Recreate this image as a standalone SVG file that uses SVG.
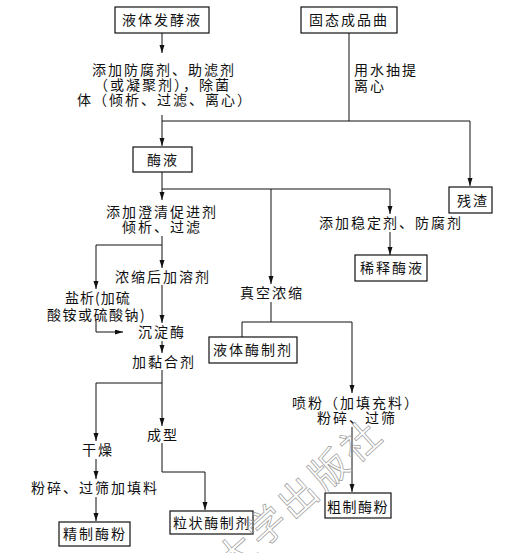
<svg xmlns="http://www.w3.org/2000/svg" width="525" height="553" viewBox="0 0 525 553">
<style>
text{font-family:"Noto Sans CJK SC","Noto Sans",sans-serif;font-size:14px;fill:#111;letter-spacing:2px}
.box{fill:#fff;stroke:#111;stroke-width:1.2}
.c{fill:none;stroke:#111;stroke-width:1}
.wm{font-size:38px;fill:none;stroke:#9a9a9a;stroke-width:0.7;letter-spacing:4px}
</style>
<defs>
<marker id="ah" markerUnits="userSpaceOnUse" markerWidth="9" markerHeight="6" refX="8" refY="2.5" orient="auto">
<path d="M0,0 L8,2.5 L0,5 z" fill="#111"/>
</marker>
</defs>
<rect width="525" height="553" fill="#fff"/>

<g id="connectors">
<path class="c" d="M162,33 V53" marker-end="url(#ah)"/>
<path class="c" d="M162,115 V146" marker-end="url(#ah)"/>
<path class="c" d="M162,121 H470 V186" marker-end="url(#ah)"/>
<path class="c" d="M349,33 V121"/>
<path class="c" d="M162,172 V200" marker-end="url(#ah)"/>
<path class="c" d="M162,189 H390 V214" marker-end="url(#ah)"/>
<path class="c" d="M271,189 V284" marker-end="url(#ah)"/>
<path class="c" d="M390,232 V255" marker-end="url(#ah)"/>
<path class="c" d="M162,236 V268" marker-end="url(#ah)"/>
<path class="c" d="M162,245 H96 V289" marker-end="url(#ah)"/>
<path class="c" d="M162,285 V323" marker-end="url(#ah)"/>
<path class="c" d="M96,320 V332 H123" marker-end="url(#ah)"/>
<path class="c" d="M162,341 V353" marker-end="url(#ah)"/>
<path class="c" d="M271,302 V322"/>
<path class="c" d="M242,337 V322 H352 V393" marker-end="url(#ah)"/>
<path class="c" d="M162,370 V426" marker-end="url(#ah)"/>
<path class="c" d="M162,383 H96 V441" marker-end="url(#ah)"/>
<path class="c" d="M96,459 V479" marker-end="url(#ah)"/>
<path class="c" d="M96,497 V521" marker-end="url(#ah)"/>
<path class="c" d="M162,443 V472 H205 V510" marker-end="url(#ah)"/>
<path class="c" d="M352,427 V492" marker-end="url(#ah)"/>
</g>

<g id="n-liquid-ferment"><rect class="box" x="115" y="7" width="94" height="26"/><text x="122" y="25">液体发酵液</text></g>
<g id="n-solid-koji"><rect class="box" x="301" y="7" width="96" height="26"/><text x="309" y="25">固态成品曲</text></g>
<g id="n-step1"><text x="92" y="75">添加防腐剂、助滤剂</text><text x="94" y="90">（或凝聚剂），除菌</text><text x="77" y="105">体（倾析、过滤、离心）</text></g>
<g id="n-extract"><text x="354" y="75">用水抽提</text><text x="354" y="91">离心</text></g>
<g id="n-enzyme-liquid"><rect class="box" x="133" y="147" width="59" height="25"/><text x="147" y="165">酶液</text></g>
<g id="n-residue"><rect class="box" x="449" y="187" width="43" height="26"/><text x="457" y="206">残渣</text></g>
<g id="n-clarify"><text x="106" y="217">添加澄清促进剂</text><text x="122" y="232">倾析、过滤</text></g>
<g id="n-stabilizer"><text x="319" y="228">添加稳定剂、防腐剂</text></g>
<g id="n-diluted"><rect class="box" x="355" y="255" width="72" height="26"/><text x="360" y="273">稀释酶液</text></g>
<g id="n-concentrate-solvent"><text x="115" y="282">浓缩后加溶剂</text></g>
<g id="n-salting"><text x="65" y="303" style="letter-spacing:1px">盐析(加硫</text><text x="47" y="320" style="letter-spacing:1.5px">酸铵或硫酸钠)</text></g>
<g id="n-vacuum"><text x="240" y="298">真空浓缩</text></g>
<g id="n-precip"><text x="138" y="337">沉淀酶</text></g>
<g id="n-liquid-prep"><rect class="box" x="209" y="337" width="88" height="26"/><text x="213" y="355">液体酶制剂</text></g>
<g id="n-binder"><text x="132" y="367">加黏合剂</text></g>
<g id="n-spray"><text x="292" y="408">喷粉（加填充料）</text><text x="317" y="423">粉碎、过筛</text></g>
<g id="n-shape"><text x="147" y="440">成型</text></g>
<g id="n-dry"><text x="82" y="455">干燥</text></g>
<g id="n-grind"><text x="31" y="493">粉碎、过筛加填料</text></g>
<g id="n-crude"><rect class="box" x="325" y="493" width="66" height="25"/><text x="327" y="512" style="letter-spacing:1.5px">粗制酶粉</text></g>
<g id="n-granular"><rect class="box" x="170" y="511" width="83" height="23"/><text x="173" y="528" style="letter-spacing:1.6px">粒状酶制剂</text></g>
<g id="n-refined"><rect class="box" x="59" y="522" width="71" height="24"/><text x="63" y="539">精制酶粉</text></g>

<g id="watermark"><text class="wm" x="300" y="510" text-anchor="middle" transform="rotate(-42 300 497)">大学出版社</text></g>
</svg>
